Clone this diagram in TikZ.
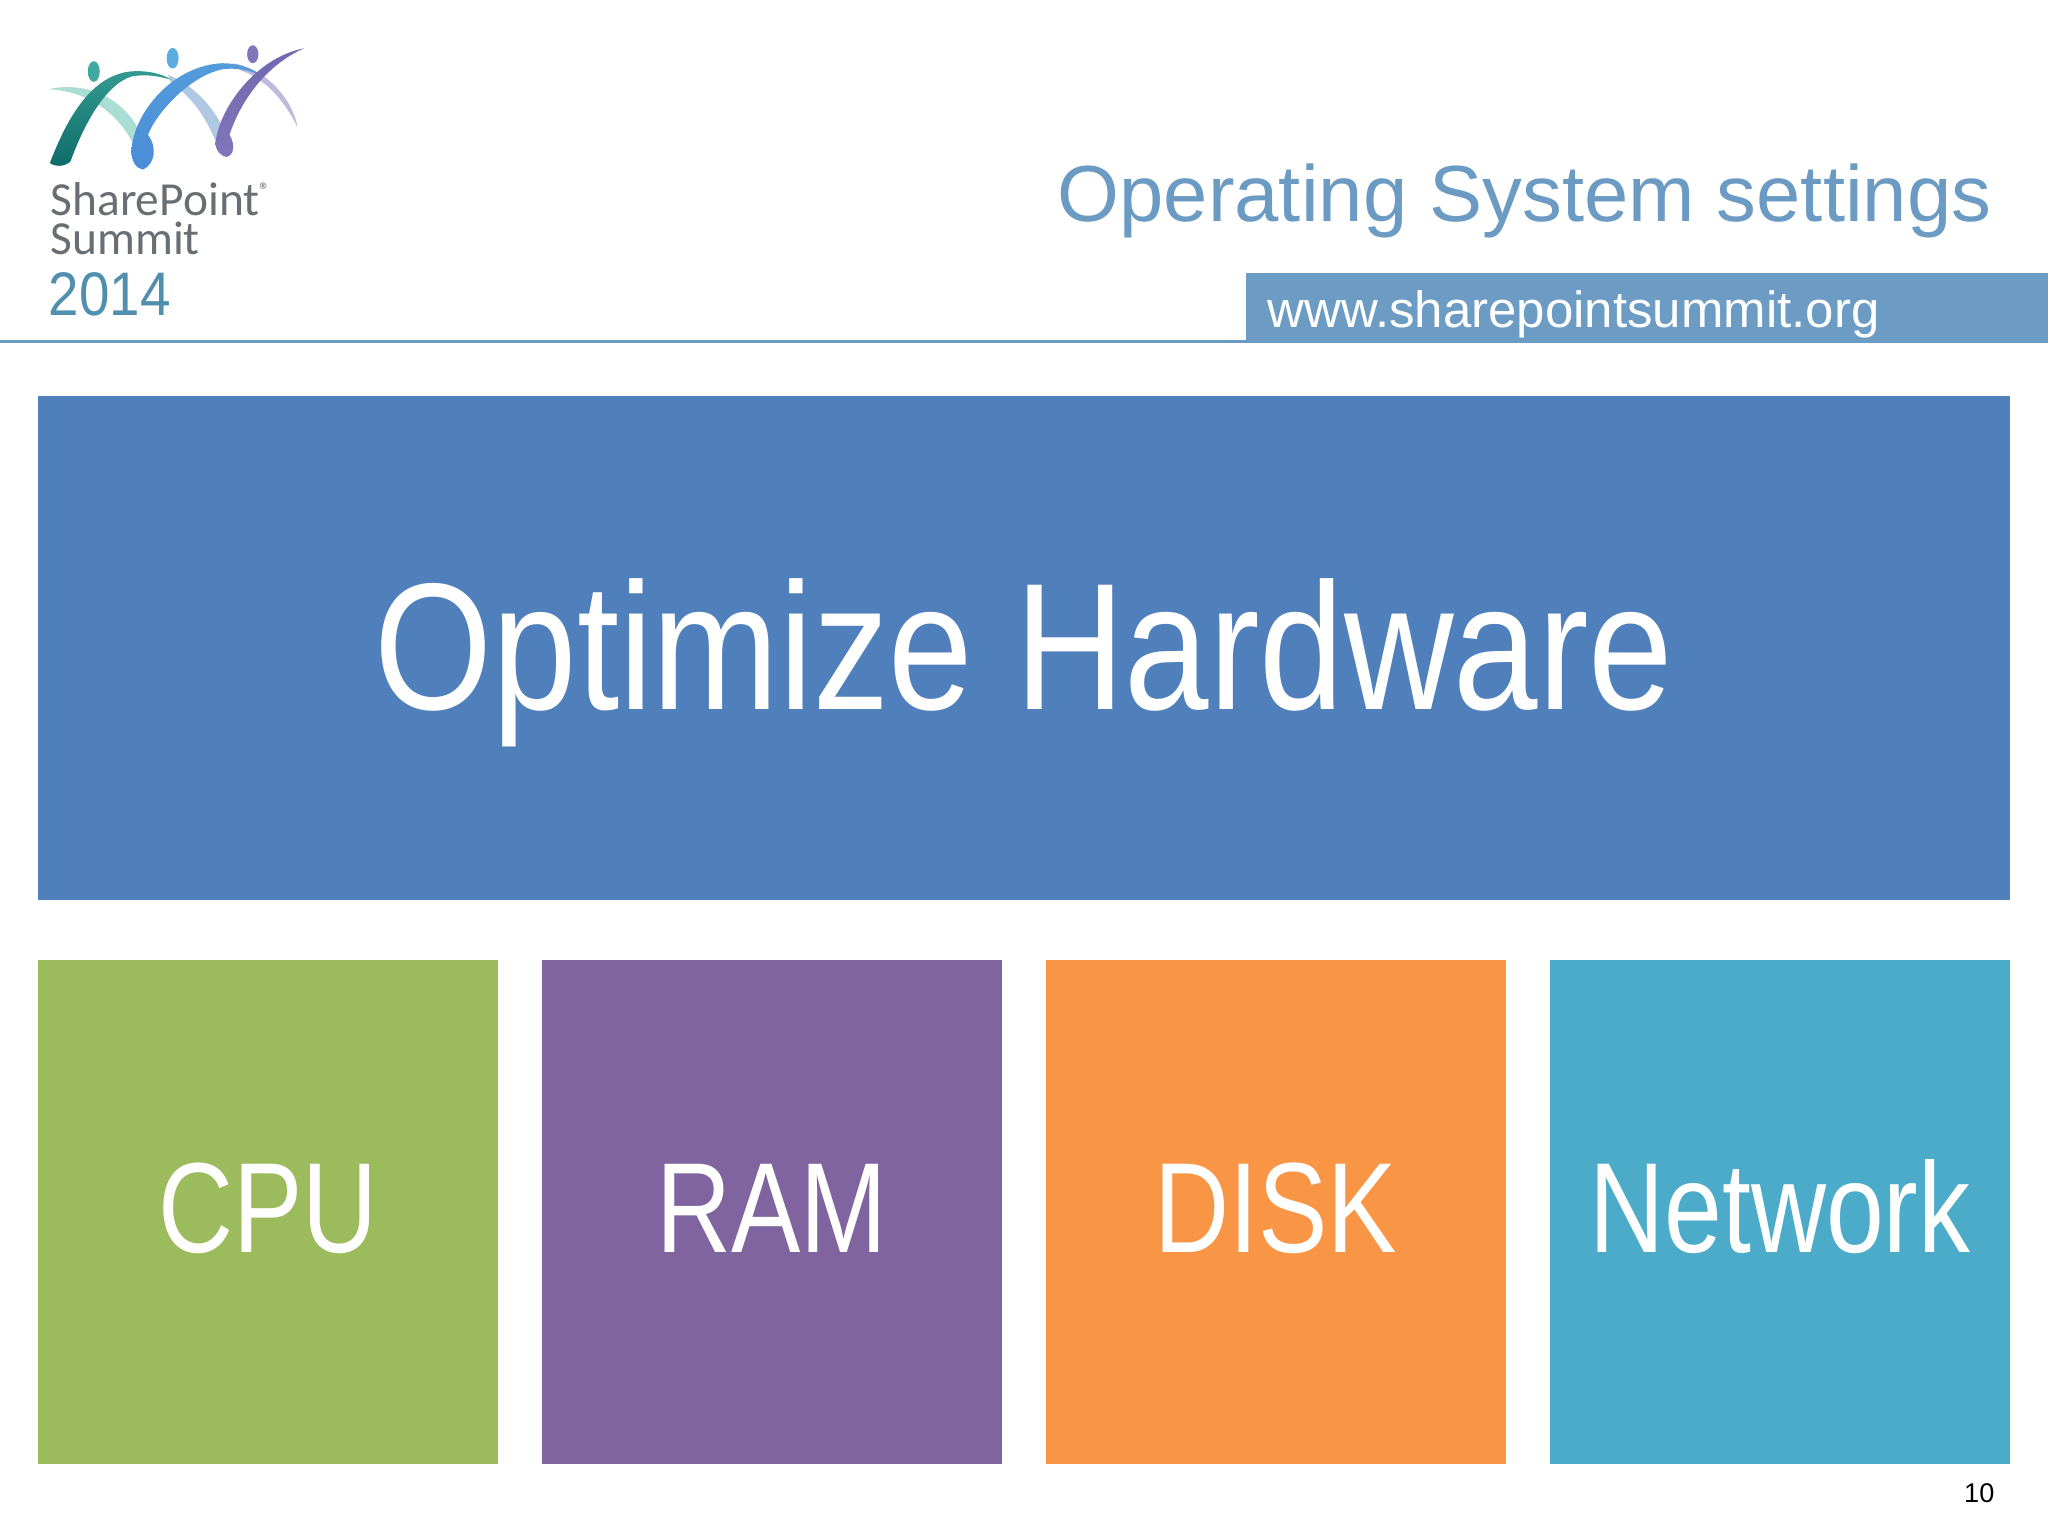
\documentclass[tikz,border=0pt]{standalone}
\usepackage{fontspec}
\usepackage{pgf,tikz}
\setmainfont{Liberation Sans}
\newfontfamily\logofont{Carlito}
\newfontfamily\yearfont[FakeStretch=0.89]{Liberation Sans}
\newfontfamily\widefont[FakeStretch=0.84]{Liberation Sans}
\newfontfamily\tilefont[FakeStretch=0.81]{Liberation Sans}
\definecolor{headblue}{RGB}{107,155,195}
\definecolor{bandblue}{RGB}{108,155,195}
\definecolor{wideblue}{RGB}{79,128,188}
\definecolor{cpugreen}{RGB}{156,187,92}
\definecolor{rampurple}{RGB}{128,100,160}
\definecolor{diskorange}{RGB}{248,150,70}
\definecolor{netaqua}{RGB}{76,171,200}
\definecolor{logogray}{RGB}{105,110,115}
\definecolor{logoyear}{RGB}{80,143,174}
\definecolor{tealdark}{RGB}{14,108,104}
\definecolor{tealmid}{RGB}{64,170,160}
\definecolor{teallight}{RGB}{170,222,212}
\definecolor{bluefoot}{RGB}{74,140,214}
\definecolor{bluemid}{RGB}{92,172,222}
\definecolor{bluelight}{RGB}{176,200,226}
\definecolor{purpledark}{RGB}{112,104,176}
\definecolor{purplemid}{RGB}{128,118,186}
\definecolor{purplelight}{RGB}{190,186,222}
\tikzset{
  tilebox/.style={fill=#1, text=white, inner sep=0pt, minimum width=4.6cm, minimum height=5.04cm,
    font=\tilefont\fontsize{36.5}{37}\selectfont, text height=22.8pt, text depth=0pt},
  logotext/.style={anchor=base west, inner sep=0pt, text=logogray, font=\logofont\fontsize{13.5}{14}\selectfont},
}
\newcommand\hwtile[4]{
  \node[tilebox=#4] (#1) at (#2,3.24) {#3};
}

\begin{document}
\begin{tikzpicture}
\useasboundingbox (0,0) rectangle (20.48,15.36);

% header
\fill[headblue] (0,11.93) rectangle (20.48,11.96);
\fill[bandblue] (12.46,11.94) rectangle (20.48,12.63);
\node[anchor=base east, inner sep=0pt, text=headblue, font=\fontsize{22.65}{24}\selectfont] (title) at (19.92,13.14) {Operating System settings};
\node[anchor=base west, inner sep=0pt, text=white, font=\fontsize{14.5}{16}\selectfont] (url) at (12.67,12.08) {www.sharepointsummit.org};

% tiles
\node[fill=wideblue, text=white, inner sep=0pt, minimum width=19.72cm, minimum height=5.04cm,
  font=\widefont\fontsize{51.4}{52}\selectfont, text height=34.8pt, text depth=0pt] (optimize) at (10.24,8.88) {Optimize Hardware};
\hwtile{cpu}{2.68}{CPU}{cpugreen};
\hwtile{ram}{7.72}{RAM}{rampurple};
\hwtile{disk}{12.76}{DISK}{diskorange};
\hwtile{network}{17.8}{Network}{netaqua};

\node[anchor=base east, inner sep=0pt, font=\fontsize{7.7}{9}\selectfont] (pagenum) at (19.95,0.33) {10};

% logo, coordinates as read off the zoomed crop
\begin{scope}[shift={(0,15.16)}, x=0.00333cm, y=-0.00333cm]
% pale ribbons
\fill[teallight] (145,208) .. controls (250,185) and (370,225) .. (425,345) -- (400,370) .. controls (350,280) and (270,215) .. cycle;
\fill[bluelight] (505,165) .. controls (570,190) and (640,250) .. (680,345) -- (650,370) .. controls (620,290) and (570,225) .. (515,190) -- cycle;
\fill[purplelight] (700,130) .. controls (790,145) and (875,225) .. (895,322) .. controls (850,235) and (795,175) .. (720,150) -- cycle;
% strong ribbons
\shade[bottom color=tealdark, middle color=tealmid, top color=tealmid!75!tealdark] (150,430) .. controls (200,300) and (270,170) .. (390,155) .. controls (440,150) and (490,162) .. (515,180) .. controls (470,166) and (430,163) .. (395,170) .. controls (315,195) and (250,320) .. (212,425) .. controls (195,442) and (165,442) .. cycle;
\shade[bottom color=bluefoot, middle color=bluemid, top color=bluefoot!50!bluemid] (395,395) .. controls (400,280) and (520,135) .. (670,130) .. controls (715,130) and (760,145) .. (790,170) .. controls (750,150) and (710,143) .. (670,148) .. controls (570,168) and (470,280) .. (445,345) .. controls (472,380) and (468,432) .. (430,450) .. controls (410,447) and (395,425) .. cycle;
\shade[bottom color=purplemid, top color=purpledark] (648,375) .. controls (652,280) and (760,115) .. (915,85) .. controls (815,128) and (730,225) .. (690,345) .. controls (708,375) and (704,408) .. (680,412) .. controls (665,408) and (650,395) .. cycle;
\fill[tealmid] (282,155) ellipse (18 and 31);
\fill[bluemid] (519,115) ellipse (18 and 31);
\fill[purplemid] (760,103) ellipse (17 and 27);
\node[logotext] (sharepoint) at (150,588) {SharePoint\raisebox{5pt}{\fontsize{6}{6}\selectfont\textregistered}};
\node[logotext] (summit) at (150,705) {Summit};
\node[anchor=base west, inner sep=0pt, text=logoyear, font=\yearfont\fontsize{17.5}{18}\selectfont] (year) at (145,888) {2014};
\end{scope}
\end{tikzpicture}
\end{document}
